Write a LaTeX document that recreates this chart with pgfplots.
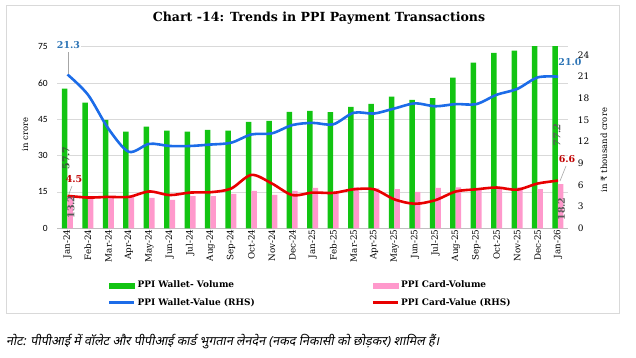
\documentclass[border=0pt]{standalone}
\usepackage{pgfplots}
\pgfplotsset{compat=1.18}
\usepackage{pgfplotstable}
\usepackage{fontspec}
\setmainfont{DejaVu Serif}
\newfontfamily\calib{Carlito}
\newfontfamily\rupfont{DejaVu Sans}
\newfontfamily\hindi[Script=Devanagari,FakeSlant=0.2]{Noto Sans}
\definecolor{wgreen}{RGB}{18,196,18}
\definecolor{cpink}{RGB}{255,153,204}
\definecolor{wblue}{RGB}{28,108,232}
\definecolor{cred}{RGB}{232,0,0}
\definecolor{lblue}{RGB}{46,117,182}
\definecolor{lred}{RGB}{192,0,0}
\definecolor{lgray}{RGB}{89,89,89}
\definecolor{lgreen}{RGB}{60,84,60}
\definecolor{gridc}{RGB}{217,217,217}
\definecolor{axc}{RGB}{191,191,191}

\pgfplotstableread{
x wv cv wval cval
0 57.7 13.2 21.3 4.5
1 51.9 13.0 18.5 4.26
2 44.8 13.1 13.8 4.35
3 39.9 13.1 10.6 4.35
4 42.0 12.6 11.7 5.1
5 40.3 11.7 11.4 4.6
6 39.9 13.3 11.4 4.95
7 40.7 13.3 11.6 5.0
8 40.3 14.2 11.85 5.5
9 44.0 15.5 13.0 7.4
10 44.4 13.8 13.15 6.2
11 48.1 15.5 14.3 4.6
12 48.5 16.7 14.6 4.95
13 48.0 15.4 14.4 4.9
14 50.2 16.9 16.0 5.4
15 51.4 16.5 15.9 5.4
16 54.4 16.2 16.6 4.0
17 53.0 15.0 17.3 3.4
18 53.8 16.7 16.9 3.9
19 62.2 16.9 17.2 5.1
20 68.4 16.2 17.2 5.4
21 72.5 16.9 18.5 5.65
22 73.4 16.9 19.3 5.35
23 76.0 16.2 20.9 6.2
24 77.2 18.2 21.0 6.6
}\data

\begin{document}
\begin{tikzpicture}
\useasboundingbox (0,0) rectangle (636bp,-358bp);
\begin{axis}[
  at={(57.3bp,-228.3bp)}, anchor=south west,
  width=511bp, height=181.6bp, scale only axis,
  xmin=-0.5, xmax=24.5, ymin=0, ymax=75,
  ytick={0,15,...,75},
  xtick={0,...,24},
  xticklabels={Jan-24,Feb-24,Mar-24,Apr-24,May-24,Jun-24,Jul-24,Aug-24,Sep-24,Oct-24,Nov-24,Dec-24,Jan-25,Feb-25,Mar-25,Apr-25,May-25,Jun-25,Jul-25,Aug-25,Sep-25,Oct-25,Nov-25,Dec-25,Jan-26},
  axis x line*=bottom, axis y line*=left,
  y axis line style={draw=none},
  x axis line style={draw=axc, line width=0.7bp},
  xtick style={draw=none}, ytick style={draw=none},
  extra x ticks={-0.5,0.5,...,24.5}, extra x tick labels={},
  extra x tick style={grid=none, tick style={draw=axc, line width=0.7bp}, tick align=outside, major tick length=4bp},
  ymajorgrids, grid style={draw=gridc, line width=0.7bp},
  /pgf/number format/assume math mode=true,
  yticklabel style={font=\calib\fontsize{9.5}{10}\selectfont, xshift=-6bp},
  xticklabel style={font=\fontsize{8.8}{9}\selectfont, rotate=90, anchor=east, inner sep=1bp},
]
\addplot[ybar, bar width=5.5bp, bar shift=-2.9bp, fill=wgreen, draw=none] table[x=x, y=wv] {\data};
\addplot[ybar, bar width=5.5bp, bar shift=2.6bp, fill=cpink, draw=none] table[x=x, y=cv] {\data};
\end{axis}
\begin{axis}[
  at={(57.3bp,-228.3bp)}, anchor=south west,
  width=511bp, height=181.6bp, scale only axis,
  xmin=-0.5, xmax=24.5, ymin=0, ymax=25.15,
  ytick={0,3,...,24},
  axis y line*=right, axis x line=none,
  y axis line style={draw=none}, ytick style={draw=none},
  /pgf/number format/assume math mode=true,
  yticklabel style={font=\fontsize{9}{10}\selectfont, xshift=6bp},
  legend columns=2,
  legend cell align=left,
  legend style={at={(0.0933,-0.268)}, anchor=north west, draw=none, fill=none,
    font=\bfseries\fontsize{9}{10}\selectfont, row sep=5bp,
    /tikz/every even column/.append style={column sep=115bp}},
]
\addlegendimage{legend image code/.code={\fill[wgreen] (0bp,-2.6bp) rectangle (25bp,2.6bp);}}
\addlegendentry{PPI Wallet- Volume}
\addlegendimage{legend image code/.code={\fill[cpink] (0bp,-2.6bp) rectangle (25bp,2.6bp);}}
\addlegendentry{PPI Card-Volume}
\addplot[wblue, line width=2.6bp, smooth, legend image code/.code={\draw[wblue, line width=2.4bp] (0bp,0bp) -- (25bp,0bp);}] table[x=x, y=wval] {\data};
\addlegendentry{PPI Wallet-Value (RHS)}
\addplot[cred, line width=2.6bp, smooth, legend image code/.code={\draw[cred, line width=2.4bp] (0bp,0bp) -- (25bp,0bp);}] table[x=x, y=cval] {\data};
\addlegendentry{PPI Card-Value (RHS)}
\end{axis}
\begin{scope}[x=1bp,y=-1bp]
\draw[gridc, line width=1bp] (6,5) rectangle (619,313);
\node[font=\bfseries\fontsize{12.6}{14}\selectfont] at (319,18) {Chart -14: Trends in PPI Payment Transactions};
\node[rotate=90, font=\fontsize{8.5}{10}\selectfont] at (25,134.5) {in crore};
\node[rotate=90, font=\fontsize{8.5}{10}\selectfont] at (604,150) {in {\rupfont ₹} thousand crore};
\draw[gray!70, line width=0.6bp] (68.5,52) -- (68.5,74);
\node[fill=white, inner sep=1bp, text=lblue, font=\bfseries\fontsize{9.5}{10}\selectfont] at (68.5,45.5) {21.3};
\node[inner sep=1bp, text=lblue, font=\bfseries\fontsize{9.5}{10}\selectfont] at (570,62) {21.0};
\draw[gray!70, line width=0.6bp] (68.5,195) -- (72,186);
\node[inner sep=1bp, text=lred, font=\bfseries\fontsize{9.5}{10}\selectfont] at (74,179) {4.5};
\draw[gray!70, line width=0.6bp] (560,181) -- (566,166);
\node[inner sep=1bp, text=lred, font=\bfseries\fontsize{9.5}{10}\selectfont] at (567,159) {6.6};
\node[rotate=90, inner sep=0bp, text=lgreen, font=\bfseries\fontsize{9.5}{10}\selectfont] at (66,158) {57.7};
\node[rotate=90, inner sep=0bp, text=lgray, font=\bfseries\fontsize{9.5}{10}\selectfont] at (71,207) {13.2};
\node[rotate=90, inner sep=0bp, text=lgray, font=\bfseries\itshape\fontsize{9.5}{10}\selectfont] at (557,135) {77.2};
\node[rotate=90, inner sep=0bp, text=lgray, font=\bfseries\fontsize{9.5}{10}\selectfont] at (561.5,209) {18.2};
\node[anchor=west, inner sep=0bp, font=\hindi\fontsize{12.6}{14}\selectfont] at (6,341.5) {नोट: पीपीआई में वॉलेट और पीपीआई कार्ड भुगतान लेनदेन (नकद निकासी को छोड़कर) शामिल हैं।};
\end{scope}
\end{tikzpicture}
\end{document}
